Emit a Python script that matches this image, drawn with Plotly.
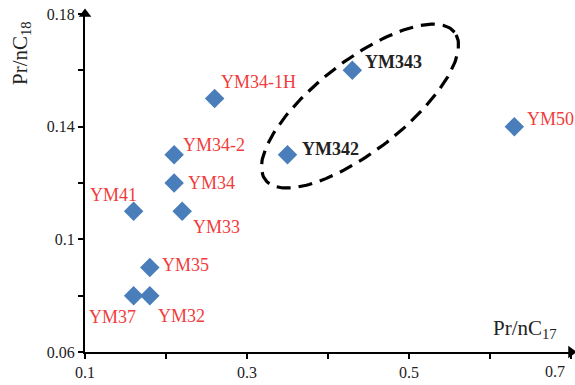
import numpy as np
import plotly.graph_objects as go

names = ["YM34-1H", "YM34-2", "YM34", "YM41", "YM33", "YM35", "YM37", "YM32", "YM343", "YM342", "YM50"]
pr_nc17 = [0.26, 0.21, 0.21, 0.16, 0.22, 0.18, 0.16, 0.18, 0.43, 0.35, 0.63]
pr_nc18 = [0.15, 0.13, 0.12, 0.11, 0.11, 0.09, 0.08, 0.08, 0.16, 0.13, 0.14]
highlighted = ["YM343", "YM342"]

x_tickvals = [0.1, 0.3, 0.5]
x_ticktext = ["0.1", "0.3", "0.5"]
x_last_tick = 0.7
x_minor = [0.2, 0.4, 0.6, 0.7]
y_tickvals = [0.06, 0.10, 0.14, 0.18]
y_ticktext = ["0.06", "0.1", "0.14", "0.18"]
y_minor = [0.08, 0.12, 0.16]

# label offsets in pixels (xshift, yshift, xanchor)
label_style = {
    "YM34-1H": (4, 17, "left"),
    "YM34-2": (7, 10, "left"),
    "YM34": (12, 0, "left"),
    "YM41": (5, 16, "right"),
    "YM33": (9, -16, "left"),
    "YM35": (10, 3, "left"),
    "YM37": (4, -21, "right"),
    "YM32": (6, -20, "left"),
    "YM343": (11, 8, "left"),
    "YM342": (12, 6, "left"),
    "YM50": (11, 8, "left"),
}

W, H = 575, 385
ml, mr, mt, mb = 85, 4, 14, 33
xr = [0.1, 0.7]
yr = [0.06, 0.18]
px_per_x = (W - ml - mr) / (xr[1] - xr[0])
px_per_y = (H - mt - mb) / (yr[1] - yr[0])

fig = go.Figure()

# dashed ellipse (defined in pixel space, converted to data)
cx, cy = 0.4395, 0.1473
a_px, b_px, ang = 120, 45, np.deg2rad(38)
t = np.linspace(0, 2 * np.pi, 200)
ox = a_px * np.cos(t) * np.cos(ang) - b_px * np.sin(t) * np.sin(ang)
oy = a_px * np.cos(t) * np.sin(ang) + b_px * np.sin(t) * np.cos(ang)
fig.add_trace(go.Scatter(x=cx + ox / px_per_x, y=cy + oy / px_per_y, mode="lines",
                         line=dict(color="black", width=3.2, dash="14px,8px"),
                         hoverinfo="skip", showlegend=False))

fig.add_trace(go.Scatter(x=pr_nc17, y=pr_nc18, mode="markers",
                         marker=dict(symbol="diamond", size=15, color="#4a7ebb"),
                         showlegend=False))

# axis arrowheads
fig.add_trace(go.Scatter(x=[xr[1], xr[0]], y=[yr[0], yr[1]], mode="markers", cliponaxis=False,
                         marker=dict(symbol=["triangle-right", "triangle-up"], size=11, color="black"),
                         hoverinfo="skip", showlegend=False))

for n, xv, yv in zip(names, pr_nc17, pr_nc18):
    xs, ys, xa = label_style[n]
    hl = n in highlighted
    fig.add_annotation(x=xv, y=yv, text=f"<b>{n}</b>" if hl else n, showarrow=False,
                       xanchor=xa, yanchor="middle", xshift=xs, yshift=ys,
                       font=dict(family="Liberation Serif", size=18,
                                 color="#222222" if hl else "#f03c3c"))

axis_font = dict(family="Liberation Serif", size=16, color="#222222")

# last x tick label, nudged left to stay inside the page
fig.add_annotation(x=x_last_tick, y=0.06, xref="x", yref="y", text=f"{x_last_tick:g}", showarrow=False,
                   xanchor="right", yanchor="top", xshift=-4, yshift=-9, font=axis_font)

# axis titles
fig.add_annotation(x=0.7, y=0.06, xref="x", yref="y", text="Pr/nC<sub>17</sub>", showarrow=False,
                   xanchor="right", yanchor="bottom", xshift=-12, yshift=8,
                   font=dict(family="Liberation Serif", size=21, color="#222222"))
fig.add_annotation(x=0, y=1, xref="paper", yref="paper", text="Pr/nC<sub>18</sub>", showarrow=False,
                   textangle=-90, xanchor="center", yanchor="top", xshift=-64, yshift=-5,
                   font=dict(family="Liberation Serif", size=21, color="#222222"))

minor_style = dict(ticks="outside", ticklen=5, tickwidth=2, tickcolor="black", showgrid=False)
fig.update_xaxes(range=xr, tickvals=x_tickvals, ticktext=x_ticktext, ticks="outside", ticklen=5,
                 tickwidth=2, tickcolor="black", showline=True, linecolor="black", linewidth=2,
                 showgrid=False, zeroline=False, tickfont=axis_font,
                 minor=dict(tickvals=x_minor, **minor_style))
fig.update_yaxes(range=yr, tickvals=y_tickvals, ticktext=y_ticktext, ticks="outside", ticklen=5,
                 tickwidth=2, tickcolor="black", showline=True, linecolor="black", linewidth=2,
                 showgrid=False, zeroline=False, tickfont=axis_font,
                 minor=dict(tickvals=y_minor, **minor_style))

fig.update_layout(width=W, height=H, margin=dict(l=ml, r=mr, t=mt, b=mb),
                  plot_bgcolor="white", paper_bgcolor="white")

fig.write_html("out.html")
